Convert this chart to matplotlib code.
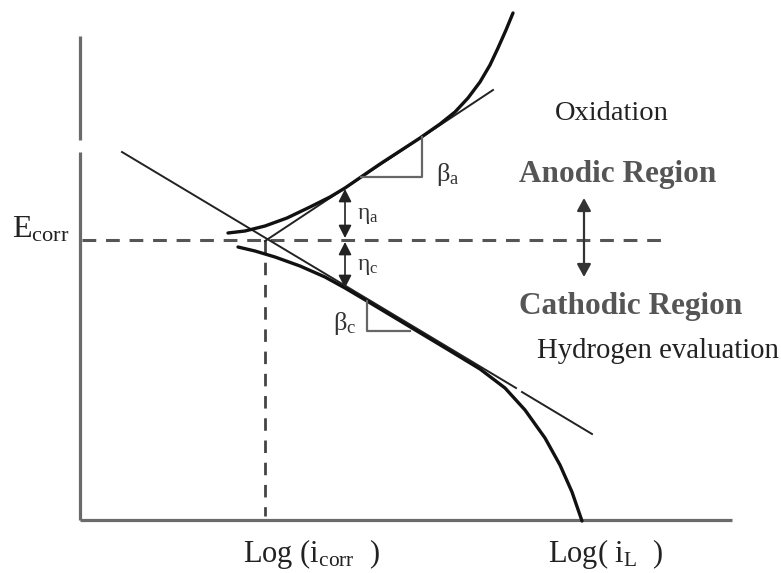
import numpy as np
import matplotlib
matplotlib.use('Agg')
import matplotlib.pyplot as plt

plt.rcParams['font.family'] = ['Liberation Serif', 'DejaVu Serif']
plt.rcParams['mathtext.fontset'] = 'custom'
plt.rcParams['mathtext.rm'] = 'Liberation Serif'
plt.rcParams['mathtext.it'] = 'Liberation Serif:italic'

# Schematic Tafel diagram (x: log i, y: potential, picture units, y downward)
W, H = 781, 573

anodic_curve_x = [228, 245, 265, 287, 310, 330, 345, 380, 420, 440, 455, 468, 480, 490, 498, 506, 513]
anodic_curve_y = [233, 231, 226, 218, 207, 197, 188, 164, 138, 124, 112, 98, 82, 65, 48, 30, 13]

cathodic_curve_x = [238, 255, 275, 300, 325, 345, 367, 407, 447, 480, 505, 525, 545, 560, 572, 582]
cathodic_curve_y = [247, 251, 257, 266, 277, 288, 301, 325, 349, 369, 388, 410, 438, 465, 492, 521]

anodic_tafel_x = [265, 493]
anodic_tafel_y = [241, 90]

cathodic_tafel_x = [122, 516, np.nan, 522, 592]
cathodic_tafel_y = [152, 388, np.nan, 392, 434]

E_corr = 240
log_icorr = 265
log_iL = 582

axis_x0, axis_x1 = 80, 732
axis_ytop, axis_ybot = 36, 520
axis_gap = (140, 152)

fig = plt.figure(figsize=(7.81, 5.73), dpi=100)
ax = fig.add_axes([0, 0, 1, 1])
ax.set_xlim(0, W)
ax.set_ylim(H, 0)
ax.axis('off')

axcol = '#6a6a6a'
# axes
ax.plot([axis_x0, axis_x0], [axis_ytop, axis_gap[0]], color=axcol, lw=2.3, solid_capstyle='butt')
ax.plot([axis_x0, axis_x0], [axis_gap[1], axis_ybot], color=axcol, lw=2.3, solid_capstyle='butt')
ax.plot([axis_x0, axis_x1], [axis_ybot, axis_ybot], color=axcol, lw=2.3, solid_capstyle='butt')

# dashed guide lines
ax.plot([axis_x0 + 2, 667], [E_corr, E_corr], color='#555555', lw=2.2, dashes=(4.5, 3.2))
ax.plot([log_icorr, log_icorr], [E_corr, axis_ybot - 4], color='#444444', lw=2.0, dashes=(4.5, 3.5))

# Tafel lines (thin)
ax.plot(anodic_tafel_x, anodic_tafel_y, color='#222222', lw=1.4)
ax.plot(cathodic_tafel_x, cathodic_tafel_y, color='#222222', lw=1.4)

# polarization curves (thick)
ax.plot(anodic_curve_x, anodic_curve_y, color='#111111', lw=2.4, solid_capstyle='round', solid_joinstyle='round')
ax.plot(cathodic_curve_x, cathodic_curve_y, color='#111111', lw=2.4, solid_capstyle='round', solid_joinstyle='round')

# slope triangles
tri = '#666666'
ax.plot([361, 422, 422], [177, 177, 137], color=tri, lw=1.6)
ax.plot([367, 367, 410], [301, 331, 331], color=tri, lw=1.6)

# eta arrows
ap = dict(arrowstyle='<|-|>,head_length=0.55,head_width=0.28', color='#222222', lw=1.2,
          shrinkA=0, shrinkB=0, mutation_scale=14)
ax.annotate('', xy=(345, 189), xytext=(345, 238), arrowprops=ap)
ax.annotate('', xy=(345, 242), xytext=(345, 288), arrowprops=ap)

# region double arrow
ax.annotate('', xy=(584, 198), xytext=(584, 277),
            arrowprops=dict(arrowstyle='<|-|>,head_length=0.55,head_width=0.3', color='#333333',
                            lw=1.6, shrinkA=0, shrinkB=0, mutation_scale=14))

# texts
tc = '#222222'
ax.text(12, 238, r'E$_{\mathrm{corr}}$', fontsize=23, color=tc, ha='left', va='baseline')
ax.text(243, 562, r'Log (i$_{\mathrm{corr}}$  )', fontsize=22, color=tc, ha='left', va='baseline')
ax.text(548, 562, r'Log( i$_{\mathrm{L}}$  )', fontsize=22, color=tc, ha='left', va='baseline')
ax.text(436, 181, r'β$_{\mathrm{a}}$', fontsize=19, color='#333333', ha='left', va='baseline')
ax.text(333, 330, r'β$_{\mathrm{c}}$', fontsize=19, color='#333333', ha='left', va='baseline')
ax.text(357, 219, r'η$_{\mathrm{a}}$', fontsize=17, color='#333333', ha='left', va='baseline')
ax.text(357, 270, r'η$_{\mathrm{c}}$', fontsize=17, color='#333333', ha='left', va='baseline')
ax.text(555, 120, 'Oxidation', fontsize=20.5, color=tc, ha='left', va='baseline')
ax.text(519, 182, 'Anodic Region', fontsize=22.5, color='#555555', ha='left', va='baseline', fontweight='bold')
ax.text(519, 314, 'Cathodic Region', fontsize=22.5, color='#555555', ha='left', va='baseline', fontweight='bold')
ax.text(537, 358, 'Hydrogen evaluation', fontsize=20.7, color=tc, ha='left', va='baseline')

fig.savefig('out.png', dpi=100)
